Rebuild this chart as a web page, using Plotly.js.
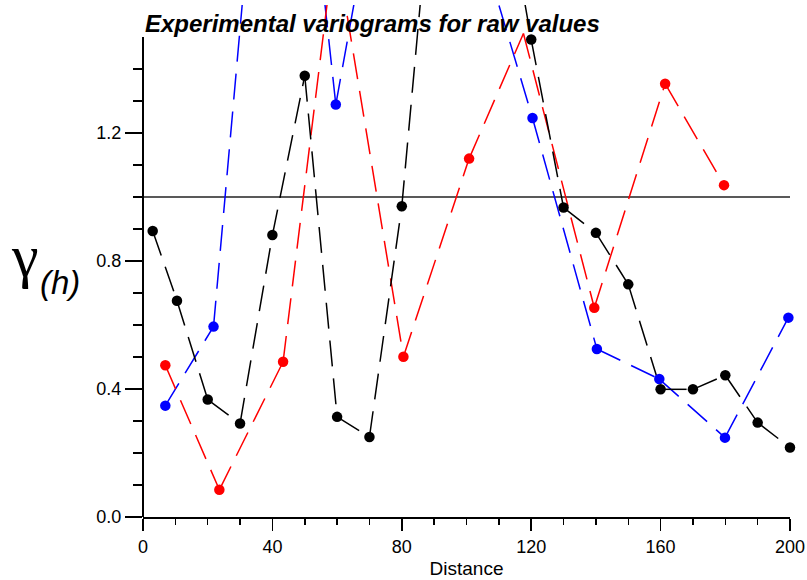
<!DOCTYPE html>
<html>
<head>
<meta charset="utf-8">
<script src="https://cdn.plot.ly/plotly-3.0.1.min.js"></script>
<style>
  html, body { margin: 0; padding: 0; background: #ffffff; }
  #chart { width: 807px; height: 580px; }
</style>
</head>
<body>
<div id="chart"></div>
<script>
// Experimental variograms (lag distance vs semivariance) for three directions
const blackLag = [3, 10.5, 20, 30, 40, 50, 60, 70, 80, 90, 100, 110, 120, 130, 140, 150, 160, 170, 180, 190, 200];
const blackGamma = [0.894, 0.676, 0.367, 0.292, 0.881, 1.379, 0.313, 0.250, 0.971, 2.08, 2.25, 2.07, 1.492, 0.967, 0.888, 0.727, 0.399, 0.399, 0.443, 0.295, 0.217];

const redLag = [6.9, 23.6, 43.3, 59.3, 80.5, 100.8, 117.6, 139.5, 161.4, 179.6];
const redGamma = [0.474, 0.085, 0.485, 1.80, 0.501, 1.120, 1.511, 0.654, 1.354, 1.037];

const blueLag = [6.9, 21.8, 42.2, 59.6, 80, 100, 120.4, 140.3, 159.6, 179.9, 199.5];
const blueGamma = [0.348, 0.595, 2.91, 1.289, 2.43, 1.94, 1.247, 0.525, 0.431, 0.248, 0.623];

const sill = 1.0;

const xTickVals = [0, 40, 80, 120, 160, 200];
const xTickText = ['0', '40', '80', '120', '160', '200'];
const xMinorVals = [10, 20, 30, 50, 60, 70, 90, 100, 110, 130, 140, 150, 170, 180, 190];
const yTickVals = [0, 0.4, 0.8, 1.2];
const yTickText = ['0.0', '0.4', '0.8', '1.2'];
const yMinorVals = [0.1, 0.2, 0.3, 0.5, 0.6, 0.7, 0.9, 1.0, 1.1, 1.3, 1.4];

// the drawn axis stops at 1.5; lines may run a little above it, markers may not
const yAxisTop = 1.5;
const yPlotTop = 1.6;

const FONT = 'Liberation Sans, Arial, Helvetica, sans-serif';
const GREEK = 'Liberation Serif, Times New Roman, serif';
const DASH = '26px,12px';

const series = [
  { lag: blueLag, gamma: blueGamma, color: '#0000ff' },
  { lag: redLag, gamma: redGamma, color: '#ff0000' },
  { lag: blackLag, gamma: blackGamma, color: '#000000' }
];

const traces = [];
series.forEach(s => {
  // each lag-to-lag segment gets its own dash pattern, starting at the point
  for (let i = 0; i < s.lag.length - 1; i++) {
    traces.push({
      type: 'scatter', mode: 'lines',
      x: [s.lag[i], s.lag[i + 1]],
      y: [s.gamma[i], s.gamma[i + 1]],
      line: { color: s.color, width: 1.5, dash: DASH },
      hoverinfo: 'skip', showlegend: false
    });
  }
});
series.forEach(s => {
  traces.push({
    type: 'scatter', mode: 'markers',
    x: s.lag,
    y: s.gamma.map(v => (v <= yAxisTop ? v : null)),
    marker: { color: s.color, size: 10.5 },
    cliponaxis: false, showlegend: false
  });
});

// plot-area geometry in pixels, used to place the gamma label
const W = 807, H = 580;
const M = { l: 143, r: 17, t: 5, b: 63 };
const pw = W - M.l - M.r, ph = H - M.t - M.b;
const px2x = px => (px - M.l) / pw;
const py2y = py => (H - M.b - py) / ph;

const layout = {
  width: W, height: H,
  margin: M,
  paper_bgcolor: '#ffffff', plot_bgcolor: '#ffffff',
  showlegend: false,
  font: { family: FONT, size: 18, color: '#000000' },
  title: {
    text: 'Experimental variograms for raw values',
    font: { family: FONT, size: 24, weight: 'bold', style: 'italic', color: '#000000' },
    xref: 'paper', x: 0.003, xanchor: 'left',
    yref: 'container', y: 1 - 24 / H, yanchor: 'middle'
  },
  xaxis: {
    range: [0, 200],
    tickmode: 'array', tickvals: xTickVals, ticktext: xTickText,
    ticks: 'outside', ticklen: 12, tickwidth: 1.5, tickcolor: '#000000',
    minor: { tickmode: 'array', tickvals: xMinorVals, ticks: 'outside', ticklen: 6, tickwidth: 1.5, tickcolor: '#000000', showgrid: false },
    showline: true, linewidth: 2, linecolor: '#000000',
    showgrid: false, zeroline: false,
    tickfont: { family: FONT, size: 18, color: '#000000' },
    title: { text: 'Distance', font: { family: FONT, size: 19, color: '#000000' }, standoff: 6 }
  },
  yaxis: {
    range: [0, yPlotTop],
    tickmode: 'array', tickvals: yTickVals, ticktext: yTickText,
    ticks: 'outside', ticklen: 17, tickwidth: 1.5, tickcolor: '#000000',
    minor: { tickmode: 'array', tickvals: yMinorVals, ticks: 'outside', ticklen: 9, tickwidth: 1.5, tickcolor: '#000000', showgrid: false },
    showline: false, showgrid: false, zeroline: false,
    tickfont: { family: FONT, size: 18, color: '#000000' }
  },
  shapes: [
    { type: 'line', xref: 'paper', yref: 'y', x0: 0, x1: 0, y0: 0, y1: yAxisTop,
      line: { color: '#000000', width: 2 } },
    { type: 'line', xref: 'x', yref: 'y', x0: 0, x1: 200, y0: sill, y1: sill,
      line: { color: '#222222', width: 1.4 }, layer: 'below' }
  ],
  annotations: [
    // gamma and its (h) subscript, side by side
    { text: 'γ', xref: 'paper', yref: 'paper', x: px2x(25), y: py2y(256),
      xanchor: 'center', yanchor: 'middle', showarrow: false, borderpad: 0,
      font: { family: GREEK, size: 60, color: '#000000' } },
    { text: '<i>(h)</i>', xref: 'paper', yref: 'paper', x: px2x(39), y: py2y(282),
      xanchor: 'left', yanchor: 'middle', showarrow: false, borderpad: 0,
      font: { family: FONT, size: 33, color: '#000000' } }
  ]
};

Plotly.newPlot('chart', traces, layout, { staticPlot: true, displayModeBar: false });
</script>
</body>
</html>
